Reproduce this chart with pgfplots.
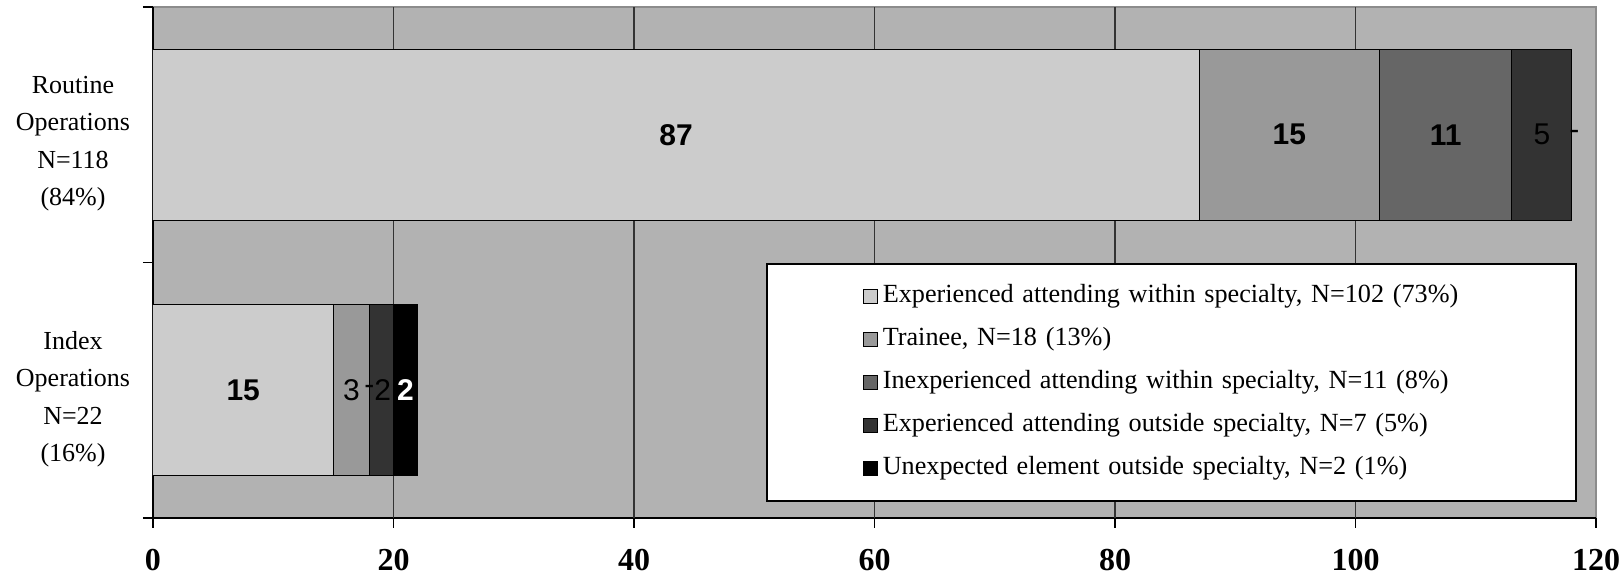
\documentclass[border=0pt]{standalone}
\usepackage{fontspec}
\setmainfont{Liberation Serif}
\newfontfamily\arialfont{Liberation Sans}
\usepackage{pgfplots}
\pgfplotsset{compat=1.18}

\definecolor{bgray}{HTML}{B2B2B2}
\definecolor{cA}{HTML}{CCCCCC}
\definecolor{cB}{HTML}{999999}
\definecolor{cC}{HTML}{666666}
\definecolor{cD}{HTML}{333333}
\definecolor{cE}{HTML}{000000}

\pgfplotsset{
  frame/.style={width=721.5pt, height=255.5pt, scale only axis,
    xmin=0, xmax=120, ymin=-0.5, ymax=1.5},
  sq/.style={legend image code/.code={
    \draw[##1, draw=black, line width=0.5pt] (0pt,-3.5pt) rectangle (7pt,3.5pt);}},
  seg/.style={fill=#1, draw=black, line width=0.5pt, sq},
  lab/.style={only marks, mark=none, nodes near coords, point meta=explicit symbolic,
    every node near coord/.append style={anchor=center, inner sep=0pt, #1}},
}

\begin{document}
\begin{tikzpicture}
\useasboundingbox (-76.5pt,-29.5pt) rectangle (733pt,259pt);

% stacked bars: index operations at y=0, routine operations at y=1
\begin{axis}[frame,
  xbar stacked, bar width=85.5pt,
  axis background/.style={fill=bgray, draw=black!45, line width=0.6pt},
  axis x line*=bottom, axis y line*=left,
  axis line style={black, line width=0.9pt},
  tick align=outside, major tick length=5pt,
  tick style={black, line width=0.8pt},
  xtick={0,20,...,120},
  extra x ticks={20,40,60,80,100}, extra x tick labels={},
  extra x tick style={grid=major, major grid style={black!80, line width=0.9pt}},
  /pgf/number format/assume math mode=true,
  xticklabel style={font=\fontsize{16}{16}\selectfont\bfseries, yshift=-7pt},
  ytick={-0.5,0.5,1.5}, yticklabels={},
  extra y ticks={0,1},
  extra y tick labels={{Index\\Operations\\N=22\\(16\%)},{Routine\\Operations\\N=118\\(84\%)}},
  extra y tick style={major tick length=0pt},
  yticklabel style={anchor=center, align=center, xshift=-40pt, yshift=-4.5pt,
    font=\fontsize{13}{18.75}\selectfont},
  legend cell align=left,
  legend style={at={(0.4248,0.499)}, anchor=north west, draw=black,
    line width=0.8pt, fill=white, inner xsep=48pt, inner ysep=10pt, row sep=9pt,
    font=\fontsize{13.1}{15}\selectfont,
    nodes={inner xsep=2.5pt, inner ysep=0pt, text height=9.5pt, text depth=3pt,
      text width=296pt, align=left}},
]
\addplot[seg=cA] coordinates {(15,0) (87,1)};
\addlegendentry{Experienced attending within specialty, N=102 (73\%)}
\addplot[seg=cB] coordinates {(3,0) (15,1)};
\addlegendentry{Trainee, N=18 (13\%)}
\addplot[seg=cC] coordinates {(0,0) (11,1)};
\addlegendentry{Inexperienced attending within specialty, N=11 (8\%)}
\addplot[seg=cD] coordinates {(2,0) (5,1)};
\addlegendentry{Experienced attending outside specialty, N=7 (5\%)}
\addplot[seg=cE] coordinates {(2,0) (0,1)};
\addlegendentry{Unexpected element outside specialty, N=2 (1\%)}
\end{axis}

% segment value labels, centred on each segment
\begin{axis}[frame, hide axis]
\addplot[lab={font=\arialfont\fontsize{15}{18}\selectfont\bfseries}] table[meta=t] {
x y t
43.5 1 87
94.5 1 15
107.5 1 11
7.5 0 15
};
\addplot[lab={font=\arialfont\fontsize{15}{18}\selectfont}] table[meta=t] {
x y t
115.5 1 5
118.2 1 -
16.5 0 3
18 0 -
19.1 0 2
};
\addplot[lab={font=\arialfont\fontsize{15}{18}\selectfont\bfseries, text=white}] table[meta=t] {
x y t
21 0 2
};
\end{axis}
\end{tikzpicture}
\end{document}
